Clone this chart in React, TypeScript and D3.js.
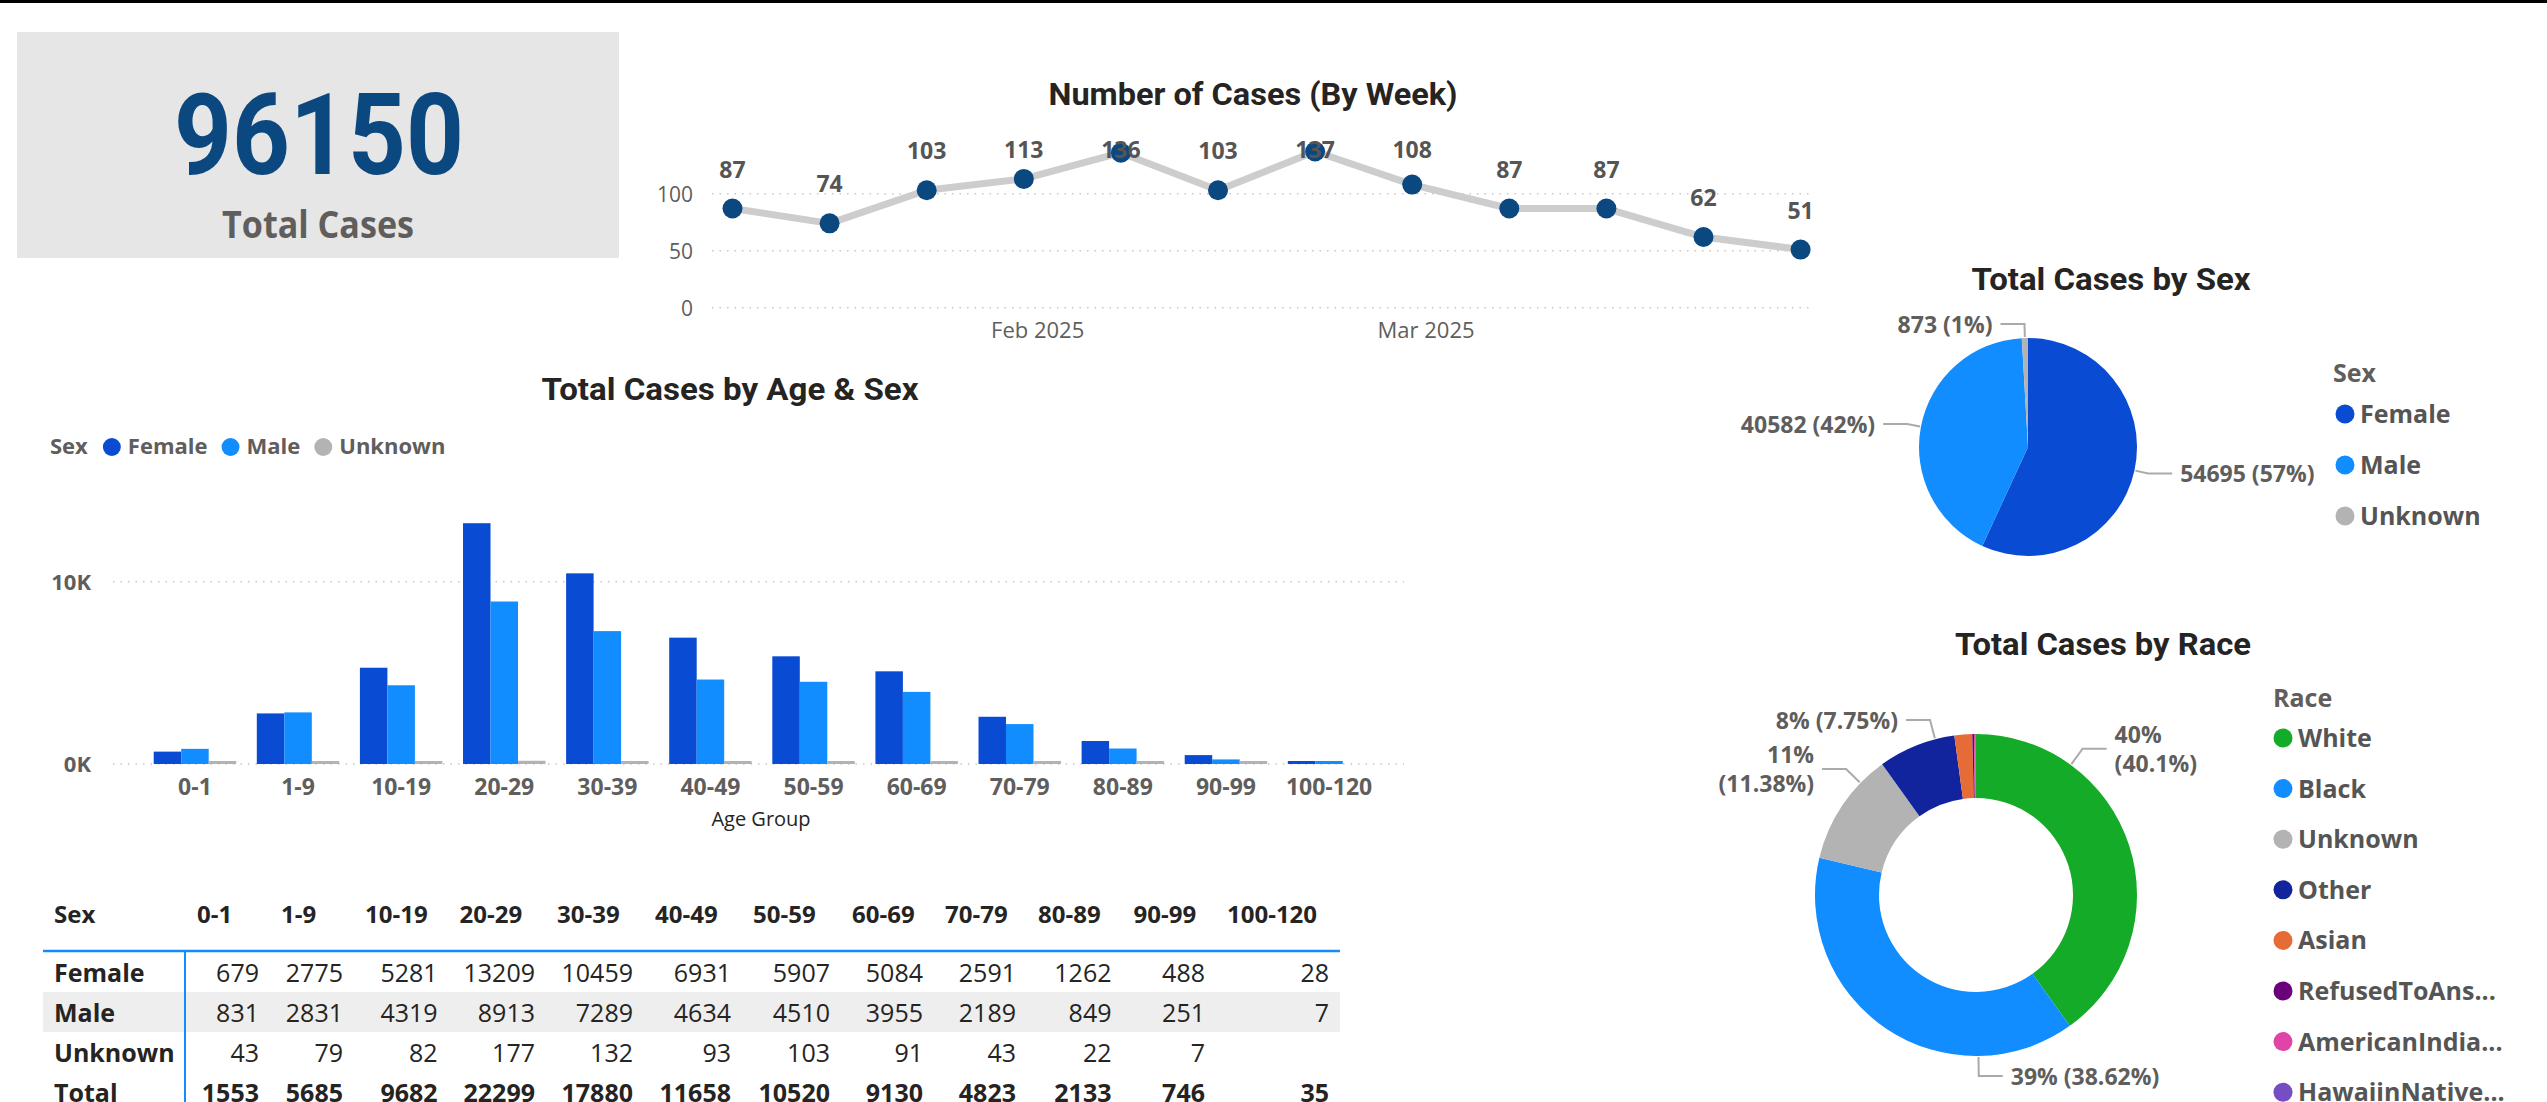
import React, { useEffect, useRef } from 'react';
import * as d3 from 'd3';

const W = 2547;
const H = 1102;

// ---------------- data ----------------
const kpiLabel = 'Total Cases';

const weekDates = ['2025-01-10', '2025-01-17', '2025-01-24', '2025-01-31', '2025-02-07', '2025-02-14', '2025-02-21', '2025-02-28', '2025-03-07', '2025-03-14', '2025-03-21', '2025-03-28'];
const weeklyCases = [87, 74, 103, 113, 136, 103, 137, 108, 87, 87, 62, 51];
const weeklyTicks = [0, 50, 100];

const ageGroups = ['0-1', '1-9', '10-19', '20-29', '30-39', '40-49', '50-59', '60-69', '70-79', '80-89', '90-99', '100-120'];
const sexCategories = ['Female', 'Male', 'Unknown'];
const femaleByAge = [679, 2775, 5281, 13209, 10459, 6931, 5907, 5084, 2591, 1262, 488, 28];
const maleByAge = [831, 2831, 4319, 8913, 7289, 4634, 4510, 3955, 2189, 849, 251, 7];
const unknownByAge: (number | null)[] = [43, 79, 82, 177, 132, 93, 103, 91, 43, 22, 7, null];
const ageTicks = [0, 10000];

const sexTotals = [54695, 40582, 873];

const raceCategories = ['White', 'Black', 'Unknown', 'Other', 'Asian', 'RefusedToAnswer', 'AmericanIndian', 'HawaiinNative'];
const raceLegendLabels = ['White', 'Black', 'Unknown', 'Other', 'Asian', 'RefusedToAns...', 'AmericanIndia...', 'HawaiinNative...'];
const raceCases = [38556, 37133, 10942, 7452, 1711, 163, 135, 58];

// ---------------- style ----------------
const sexColors = ['#0A4BD3', '#118DFF', '#B3B3B3'];
const raceColors = ['#13AB28', '#118DFF', '#B3B3B3', '#12239E', '#E66C37', '#6B007B', '#E044A7', '#744EC2'];
const SANS = "'Open Sans', 'Noto Sans', sans-serif";
const DIN = "Roboto, 'Open Sans', sans-serif";
const TITLE = '#252423';
const LABEL = '#605E5C';
const DATALABEL = '#555555';
const NAVY = '#0B4880';

function draw(root: any) {
  const svg = d3.select(root);
  svg.selectAll('*').remove();

  svg.append('rect').attr('x', 0).attr('y', 0).attr('width', W).attr('height', H).attr('fill', '#ffffff');
  svg.append('rect').attr('x', 0).attr('y', 0).attr('width', W).attr('height', 3).attr('fill', '#000000');

  const title = (text: string, cx: number, baseline: number, len: number) =>
    svg.append('text').attr('x', cx).attr('y', baseline).attr('text-anchor', 'middle')
      .attr('font-family', DIN).attr('font-weight', 700).attr('font-size', 31).attr('fill', TITLE)
      .attr('textLength', len).attr('lengthAdjust', 'spacingAndGlyphs').text(text);

  // ---------- KPI card ----------
  const total = d3.sum(sexTotals);
  svg.append('rect').attr('x', 17).attr('y', 32).attr('width', 602).attr('height', 226).attr('fill', '#E6E6E6');
  svg.append('text').attr('x', 319).attr('y', 174).attr('text-anchor', 'middle')
    .attr('font-family', DIN).attr('font-weight', 700).attr('font-size', 114).attr('fill', NAVY)
    .attr('textLength', 290).attr('lengthAdjust', 'spacingAndGlyphs').text(String(total));
  svg.append('text').attr('x', 318).attr('y', 238).attr('text-anchor', 'middle')
    .attr('font-family', SANS).attr('font-weight', 700).attr('font-size', 37).attr('fill', LABEL)
    .attr('textLength', 192).attr('lengthAdjust', 'spacingAndGlyphs').text(kpiLabel);

  // ---------- Line chart ----------
  title('Number of Cases (By Week)', 1253, 105, 409);
  const dates = weekDates.map((d) => new Date(d + 'T00:00:00'));
  const xT = d3.scaleTime().domain([dates[0], dates[dates.length - 1]]).range([732.5, 1800.6]);
  const yL = d3.scaleLinear().domain([0, 150]).range([307.7, 136.7]);
  const gL = svg.append('g');
  weeklyTicks.forEach((t) => {
    gL.append('line').attr('x1', 712).attr('x2', 1813).attr('y1', yL(t)).attr('y2', yL(t))
      .attr('stroke', '#C8C8C8').attr('stroke-width', 1.5).attr('stroke-dasharray', '1.5,6');
    gL.append('text').attr('x', 693).attr('y', yL(t) + 8).attr('text-anchor', 'end')
      .attr('font-family', SANS).attr('font-size', 21).attr('fill', LABEL).text(String(t));
  });
  const monthTicks = xT.ticks(d3.timeMonth.every(1) as any);
  const fmtMonth = d3.timeFormat('%b %Y');
  monthTicks.forEach((t: Date) => {
    gL.append('text').attr('x', xT(t)).attr('y', 338).attr('text-anchor', 'middle')
      .attr('font-family', SANS).attr('font-size', 22).attr('fill', LABEL).text(fmtMonth(t));
  });
  const lineGen = d3.line<number>().x((_, i) => xT(dates[i])).y((d) => yL(d));
  gL.append('path').attr('d', lineGen(weeklyCases) as string).attr('fill', 'none')
    .attr('stroke', '#CDCDCD').attr('stroke-width', 7).attr('stroke-linejoin', 'round');
  weeklyCases.forEach((v, i) => {
    gL.append('circle').attr('cx', xT(dates[i])).attr('cy', yL(v)).attr('r', 10).attr('fill', NAVY);
  });
  const labelTop = yL.range()[1] + 21;
  weeklyCases.forEach((v, i) => {
    gL.append('text').attr('x', xT(dates[i])).attr('y', Math.max(yL(v) - 31, labelTop))
      .attr('text-anchor', 'middle').attr('font-family', SANS).attr('font-weight', 700)
      .attr('font-size', 23).attr('fill', DATALABEL).text(String(v));
  });

  // ---------- Clustered bar chart ----------
  title('Total Cases by Age & Sex', 730, 400, 377);
  const gB = svg.append('g');
  const series = [femaleByAge, maleByAge, unknownByAge];
  const x0 = d3.scaleBand<string>().domain(ageGroups).range([143.4, 1380.6]).paddingInner(0.2).paddingOuter(0.1);
  const x1 = d3.scaleBand<string>().domain(sexCategories).range([0, x0.bandwidth()]);
  const yB = d3.scaleLinear().domain([0, 15000]).range([764, 490.55]);
  ageTicks.forEach((t) => {
    gB.append('line').attr('x1', 113).attr('x2', 1404).attr('y1', yB(t)).attr('y2', yB(t))
      .attr('stroke', '#C8C8C8').attr('stroke-width', 1.5).attr('stroke-dasharray', '1.5,6');
    gB.append('text').attr('x', 91).attr('y', yB(t) + 8).attr('text-anchor', 'end')
      .attr('font-family', SANS).attr('font-weight', 700).attr('font-size', 22).attr('fill', LABEL)
      .text(`${t / 1000}K`);
  });
  ageGroups.forEach((g, i) => {
    sexCategories.forEach((s, j) => {
      const v = series[j][i];
      if (v == null || v === 0) return;
      const h = Math.max(yB(0) - yB(v), 3);
      gB.append('rect').attr('x', (x0(g) as number) + (x1(s) as number)).attr('y', yB(0) - h)
        .attr('width', x1.bandwidth()).attr('height', h).attr('fill', sexColors[j]);
    });
    gB.append('text').attr('x', (x0(g) as number) + x0.bandwidth() / 2).attr('y', 795)
      .attr('text-anchor', 'middle').attr('font-family', SANS).attr('font-weight', 700)
      .attr('font-size', 23).attr('fill', LABEL).text(g);
  });
  gB.append('text').attr('x', 761).attr('y', 826).attr('text-anchor', 'middle')
    .attr('font-family', SANS).attr('font-size', 20).attr('fill', TITLE).text('Age Group');
  // legend
  let cur = 50;
  const lgTitle = gB.append('text').attr('x', cur).attr('y', 454).attr('font-family', SANS)
    .attr('font-weight', 700).attr('font-size', 22).attr('fill', LABEL).text('Sex');
  cur += (lgTitle.node() as SVGTextElement).getComputedTextLength() + 15;
  sexCategories.forEach((s, j) => {
    gB.append('circle').attr('cx', cur + 9).attr('cy', 447).attr('r', 9).attr('fill', sexColors[j]);
    cur += 18 + 7;
    const t = gB.append('text').attr('x', cur).attr('y', 454).attr('font-family', SANS)
      .attr('font-weight', 700).attr('font-size', 22).attr('fill', LABEL).text(s);
    cur += (t.node() as SVGTextElement).getComputedTextLength() + 14;
  });

  // ---------- Table ----------
  const gT = svg.append('g');
  const colWidths = [84, 84, 94.6, 97.4, 98, 98, 99, 93, 93, 95.5, 93.5, 124];
  const tX0 = 186;
  const pad = 11;
  const colStart: number[] = [];
  colWidths.reduce((acc, w) => { colStart.push(acc); return acc + w; }, tX0);
  const tRight = tX0 + d3.sum(colWidths);
  gT.append('rect').attr('x', 43).attr('y', 992).attr('width', tRight - 43).attr('height', 40).attr('fill', '#EEEEEE');
  gT.append('line').attr('x1', 43).attr('x2', tRight).attr('y1', 951).attr('y2', 951)
    .attr('stroke', '#118DFF').attr('stroke-width', 2.5);
  gT.append('line').attr('x1', 185).attr('x2', 185).attr('y1', 951).attr('y2', H)
    .attr('stroke', '#118DFF').attr('stroke-width', 2);
  gT.append('text').attr('x', 54).attr('y', 923).attr('font-family', SANS).attr('font-weight', 700)
    .attr('font-size', 24).attr('fill', TITLE).text('Sex');
  ageGroups.forEach((g, i) => {
    gT.append('text').attr('x', colStart[i] + pad).attr('y', 923).attr('font-family', SANS)
      .attr('font-weight', 700).attr('font-size', 24).attr('fill', TITLE).text(g);
  });
  const totals = ageGroups.map((_, i) => d3.sum(series, (s) => s[i] ?? 0));
  const rows: { name: string; vals: (number | null)[]; bold: boolean }[] = [
    { name: 'Female', vals: femaleByAge, bold: false },
    { name: 'Male', vals: maleByAge, bold: false },
    { name: 'Unknown', vals: unknownByAge, bold: false },
    { name: 'Total', vals: totals, bold: true },
  ];
  rows.forEach((r, ri) => {
    const base = 952 + ri * 40 + 29.7;
    gT.append('text').attr('x', 54).attr('y', base).attr('font-family', SANS).attr('font-weight', 700)
      .attr('font-size', 25).attr('fill', TITLE).text(r.name);
    r.vals.forEach((v, i) => {
      if (v == null) return;
      gT.append('text').attr('x', colStart[i] + colWidths[i] - pad).attr('y', base).attr('text-anchor', 'end')
        .attr('font-family', SANS).attr('font-weight', r.bold ? 700 : 400).attr('font-size', 25)
        .attr('fill', TITLE).text(String(v));
    });
  });

  // ---------- Pie: sex ----------
  title('Total Cases by Sex', 2111, 290, 279);
  const gP = svg.append('g').attr('transform', 'translate(2028,447)');
  const pieGen = d3.pie<number>().sort(null).value((d) => d);
  const sexArcs = pieGen(sexTotals);
  const rP = 109;
  const arcP = d3.arc<any>().innerRadius(0).outerRadius(rP);
  const pctFmt = (v: number, tot: number) => `${Math.round((v / tot) * 100)}%`;
  sexArcs.forEach((a, j) => {
    gP.append('path').attr('d', arcP(a) as string).attr('fill', sexColors[j]);
  });
  const polar = (r: number, ang: number) => [r * Math.sin(ang), -r * Math.cos(ang)];
  sexArcs.forEach((a, j) => {
    const ang = (a.startAngle + a.endAngle) / 2;
    const p0 = polar(rP + 1, ang);
    const p1 = polar(rP + 14, ang);
    const side = Math.sin(ang) >= 0 ? 1 : -1;
    const p2 = [p1[0] + side * 24, p1[1]];
    gP.append('path').attr('d', `M${p0[0]},${p0[1]}L${p1[0]},${p1[1]}L${p2[0]},${p2[1]}`)
      .attr('fill', 'none').attr('stroke', '#AAAAAA').attr('stroke-width', 2);
    gP.append('text').attr('x', p2[0] + side * 8).attr('y', p1[1] + 9)
      .attr('text-anchor', side > 0 ? 'start' : 'end').attr('font-family', SANS).attr('font-weight', 700)
      .attr('font-size', 23).attr('fill', LABEL).text(`${sexTotals[j]} (${pctFmt(sexTotals[j], total)})`);
  });
  // legend
  svg.append('text').attr('x', 2333).attr('y', 382).attr('font-family', SANS).attr('font-weight', 700)
    .attr('font-size', 25).attr('fill', LABEL).text('Sex');
  sexCategories.forEach((s, j) => {
    const cy = 414 + j * 51;
    svg.append('circle').attr('cx', 2345).attr('cy', cy).attr('r', 9.5).attr('fill', sexColors[j]);
    svg.append('text').attr('x', 2360).attr('y', cy + 9).attr('font-family', SANS).attr('font-weight', 700)
      .attr('font-size', 25).attr('fill', DATALABEL).text(s);
  });

  // ---------- Donut: race ----------
  title('Total Cases by Race', 2103, 655, 296);
  const cxD = 1976, cyD = 895;
  const gD = svg.append('g').attr('transform', `translate(${cxD},${cyD})`);
  const rO = 161, rI = 97;
  const raceTotal = d3.sum(raceCases);
  const raceArcs = pieGen(raceCases);
  const arcD = d3.arc<any>().innerRadius(rI).outerRadius(rO);
  raceArcs.forEach((a, j) => {
    gD.append('path').attr('d', arcD(a) as string).attr('fill', raceColors[j]);
  });
  const pct2 = (p: number) => String(Math.round(p * 100) / 100);
  raceArcs.forEach((a, j) => {
    const p = (raceCases[j] / raceTotal) * 100;
    if (p < 5) return;
    const mid = (a.startAngle + a.endAngle) / 2;
    const pole = mid < Math.PI / 2 ? 0 : mid > (3 * Math.PI) / 2 ? 2 * Math.PI : Math.PI;
    const f = pole < mid ? 0.25 : 0.75;
    const ang = a.startAngle + (a.endAngle - a.startAngle) * f;
    const p0 = polar(rO + 1, ang);
    const p1 = polar(rO + 20, ang);
    const side = Math.sin(ang) >= 0 ? 1 : -1;
    const p2 = [p1[0] + side * 24, p1[1]];
    gD.append('path').attr('d', `M${p0[0]},${p0[1]}L${p1[0]},${p1[1]}L${p2[0]},${p2[1]}`)
      .attr('fill', 'none').attr('stroke', '#AAAAAA').attr('stroke-width', 2);
    const lx = p2[0] + side * 8;
    const anchor = side > 0 ? 'start' : 'end';
    const first = `${Math.round(p)}%`;
    const second = `(${pct2(p)}%)`;
    const t = gD.append('text').attr('x', lx).attr('y', p1[1] + 9).attr('text-anchor', anchor)
      .attr('font-family', SANS).attr('font-weight', 700).attr('font-size', 23).attr('fill', LABEL)
      .text(`${first} ${second}`);
    const wlen = (t.node() as SVGTextElement).getComputedTextLength();
    const absL = side > 0 ? cxD + lx : cxD + lx - wlen;
    const absR = side > 0 ? cxD + lx + wlen : cxD + lx;
    if (absL < 1710 || absR > 2245) {
      t.text(null);
      t.attr('y', null);
      t.append('tspan').attr('x', lx).attr('y', p1[1] - 6).text(first);
      t.append('tspan').attr('x', lx).attr('y', p1[1] + 23).text(second);
    }
  });
  // legend
  svg.append('text').attr('x', 2273).attr('y', 707).attr('font-family', SANS).attr('font-weight', 700)
    .attr('font-size', 25).attr('fill', LABEL).text('Race');
  raceLegendLabels.forEach((s, j) => {
    const cy = 738 + j * 50.6;
    svg.append('circle').attr('cx', 2283).attr('cy', cy).attr('r', 9.5).attr('fill', raceColors[j]);
    svg.append('text').attr('x', 2298).attr('y', cy + 9).attr('font-family', SANS).attr('font-weight', 700)
      .attr('font-size', 25).attr('fill', DATALABEL).text(s);
  });
}

export default function App() {
  const ref = useRef<SVGSVGElement>(null);
  useEffect(() => {
    if (ref.current) draw(ref.current);
  }, []);
  return (
    <div style={{ position: 'absolute', left: 0, top: 0, width: W, height: H, overflow: 'hidden' }}>
      <svg ref={ref} width={W} height={H} style={{ display: 'block' }} />
    </div>
  );
}
